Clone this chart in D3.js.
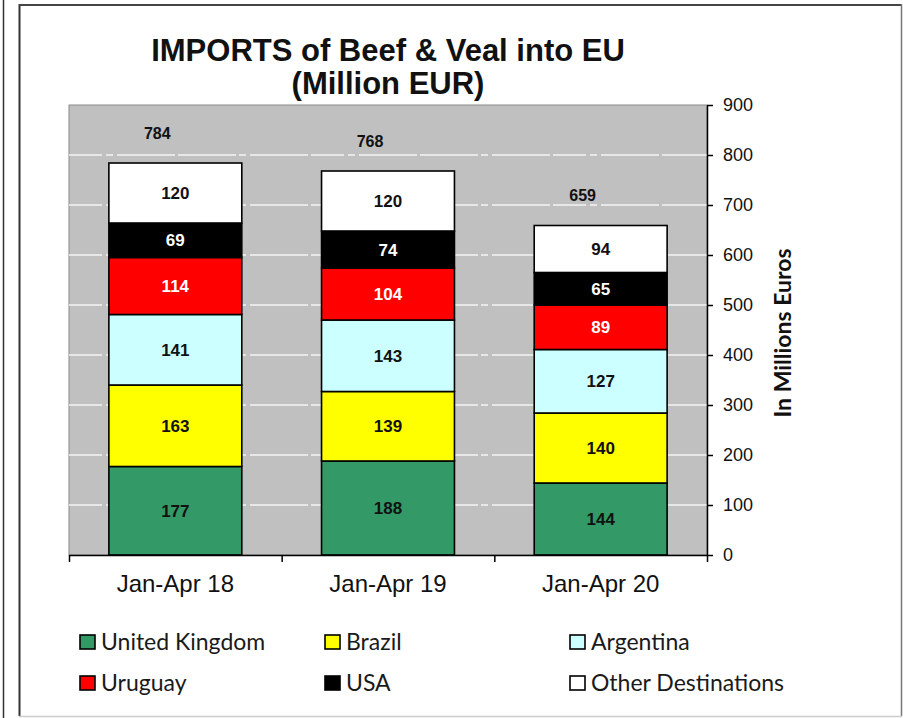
<!DOCTYPE html>
<html>
<head>
<meta charset="utf-8">
<script src="https://cdn.jsdelivr.net/npm/d3@7"></script>
<style>
  html, body { margin: 0; padding: 0; background: #fff; }
  svg { display: block; }
</style>
</head>
<body>
<svg id="chart" width="903" height="718"></svg>
<script>
// periods on the x axis
const periods = ['Jan-Apr 18', 'Jan-Apr 19', 'Jan-Apr 20'];
// origin of imports, bottom of the stack first
const origins = ['United Kingdom', 'Brazil', 'Argentina', 'Uruguay', 'USA', 'Other Destinations'];
// million EUR per origin, one value per period
const ukValues = [177, 188, 144];
const brazilValues = [163, 139, 140];
const argentinaValues = [141, 143, 127];
const uruguayValues = [114, 104, 89];
const usaValues = [69, 74, 65];
const otherValues = [120, 120, 94];
const totals = [784, 768, 659];
const yTicks = [0, 100, 200, 300, 400, 500, 600, 700, 800, 900];

const colors = ['#339966', '#FFFF00', '#CCFFFF', '#FF0000', '#000000', '#FFFFFF'];
const labelColors = ['#111', '#111', '#111', '#fff', '#fff', '#111'];

const seriesValues = [ukValues, brazilValues, argentinaValues, uruguayValues, usaValues, otherValues];

// build rows for d3.stack
const rows = periods.map((p, i) => {
  const row = { period: p };
  origins.forEach((o, k) => { row[o] = seriesValues[k][i]; });
  return row;
});
const stacked = d3.stack().keys(origins)(rows);

const margin = { left: 69, right: 196, top: 105, bottom: 163 };
const width = 903, height = 718;

const svg = d3.select('#chart');

// outer frame (page border look)
svg.append('line').attr('x1', 3.5).attr('x2', 3.5).attr('y1', 0).attr('y2', height)
  .attr('stroke', '#333').attr('stroke-width', 1.5);
svg.append('line').attr('x1', 19.5).attr('x2', 19.5).attr('y1', 4).attr('y2', 716)
  .attr('stroke', '#333').attr('stroke-width', 2);
svg.append('line').attr('x1', 19).attr('x2', 902).attr('y1', 5).attr('y2', 5)
  .attr('stroke', '#444').attr('stroke-width', 2);
svg.append('line').attr('x1', 901.5).attr('x2', 901.5).attr('y1', 4).attr('y2', 716)
  .attr('stroke', '#777').attr('stroke-width', 1.5);
svg.append('line').attr('x1', 19).attr('x2', 902).attr('y1', 716.5).attr('y2', 716.5)
  .attr('stroke', '#ccc').attr('stroke-width', 1.5);

const x = d3.scaleBand()
  .domain(periods)
  .range([margin.left, width - margin.right])
  .paddingInner(0.375)
  .paddingOuter(0.1875);

const y = d3.scaleLinear()
  .domain([0, 900])
  .range([height - margin.bottom - 0, margin.top]);

// plot area
svg.append('rect')
  .attr('x', margin.left).attr('y', margin.top)
  .attr('width', width - margin.left - margin.right)
  .attr('height', y(0) - margin.top)
  .attr('fill', '#C0C0C0')
  .attr('stroke', '#8a8a8a').attr('stroke-width', 1);

// white dashed gridlines
svg.append('g')
  .selectAll('line')
  .data(yTicks.filter(t => t > 0 && t < 900))
  .enter().append('line')
  .attr('x1', margin.left).attr('x2', width - margin.right)
  .attr('y1', d => y(d)).attr('y2', d => y(d))
  .attr('stroke', '#f4f4f4').attr('stroke-width', 1.6)
  .attr('stroke-dasharray', '33,4,7,4,58,3,58,3,7,4,58,3');

// stacked bars
const layers = svg.append('g')
  .selectAll('g')
  .data(stacked)
  .enter().append('g')
  .attr('fill', (d, i) => colors[i]);

layers.selectAll('rect')
  .data(d => d)
  .enter().append('rect')
  .attr('x', d => x(d.data.period))
  .attr('y', d => y(d[1]))
  .attr('width', x.bandwidth())
  .attr('height', d => y(d[0]) - y(d[1]))
  .attr('stroke', '#000').attr('stroke-width', 1.6);

// segment value labels
layers.each(function (layer, i) {
  d3.select(this).selectAll('text')
    .data(layer)
    .enter().append('text')
    .attr('x', d => x(d.data.period) + x.bandwidth() / 2)
    .attr('y', d => (y(d[0]) + y(d[1])) / 2)
    .attr('dy', '0.36em')
    .attr('text-anchor', 'middle')
    .attr('font-family', 'Liberation Sans, Arial, sans-serif')
    .attr('font-weight', 'bold')
    .attr('font-size', 17)
    .attr('fill', labelColors[i])
    .text(d => d[1] - d[0]);
});

// totals above the bars
svg.append('g')
  .selectAll('text')
  .data(totals)
  .enter().append('text')
  .attr('x', (d, i) => x(periods[i]) + x.bandwidth() / 2 - 18)
  .attr('y', d => y(d) - 30)
  .attr('dy', '0.36em')
  .attr('text-anchor', 'middle')
  .attr('font-family', 'Liberation Sans, Arial, sans-serif')
  .attr('font-weight', 'bold')
  .attr('font-size', 16)
  .attr('fill', '#111')
  .text(d => d);

// x axis: line, boundary ticks, category labels
const xEdge = d3.scaleLinear().domain([0, periods.length]).range([margin.left, width - margin.right]);
svg.append('g')
  .attr('transform', `translate(0,${y(0)})`)
  .call(d3.axisBottom(xEdge).tickValues(d3.range(periods.length + 1)).tickFormat('').tickSize(7).tickSizeOuter(0))
  .call(g => g.selectAll('path, line').attr('stroke', '#000').attr('stroke-width', 1.5));

svg.append('g')
  .attr('transform', `translate(0,${y(0)})`)
  .call(d3.axisBottom(x).tickSize(0).tickPadding(20))
  .call(g => g.select('.domain').remove())
  .call(g => g.selectAll('text')
    .attr('font-family', 'Liberation Sans, Arial, sans-serif')
    .attr('font-size', 24)
    .attr('fill', '#111'));

// y axis on the right
svg.append('g')
  .attr('transform', `translate(${width - margin.right},0)`)
  .call(d3.axisRight(y).tickValues(yTicks).tickSize(6).tickPadding(10).tickSizeOuter(0))
  .call(g => g.selectAll('path, line').attr('stroke', '#000').attr('stroke-width', 1.5))
  .call(g => g.selectAll('text')
    .attr('font-family', 'Liberation Sans, Arial, sans-serif')
    .attr('font-size', 18)
    .attr('fill', '#111'));

svg.append('text')
  .attr('transform', `translate(791,333) rotate(-90)`)
  .attr('text-anchor', 'middle')
  .attr('font-family', 'Lato, sans-serif')
  .attr('font-weight', 'bold')
  .attr('font-size', 23)
  .attr('fill', '#111')
  .text('In Millions Euros');

// title
const titleX = (margin.left + width - margin.right) / 2;
svg.append('text')
  .attr('x', titleX).attr('y', 61)
  .attr('text-anchor', 'middle')
  .attr('font-family', 'Liberation Sans, Arial, sans-serif')
  .attr('font-weight', 'bold')
  .attr('font-size', 31)
  .attr('fill', '#111')
  .text('IMPORTS of Beef & Veal into EU');
svg.append('text')
  .attr('x', titleX).attr('y', 94)
  .attr('text-anchor', 'middle')
  .attr('font-family', 'Liberation Sans, Arial, sans-serif')
  .attr('font-weight', 'bold')
  .attr('font-size', 31)
  .attr('fill', '#111')
  .text('(Million EUR)');

// legend, 3 columns x 2 rows
const legendCols = [80, 325, 570];
const legendRows = [642, 683];
const legend = svg.append('g')
  .selectAll('g')
  .data(origins)
  .enter().append('g')
  .attr('transform', (d, i) => `translate(${legendCols[i % 3]},${legendRows[Math.floor(i / 3)]})`);

legend.append('rect')
  .attr('x', 0).attr('y', -7)
  .attr('width', 15).attr('height', 14)
  .attr('fill', (d, i) => colors[i])
  .attr('stroke', '#000').attr('stroke-width', 1.6);

legend.append('text')
  .attr('x', 21).attr('y', 0)
  .attr('dy', '0.35em')
  .attr('font-family', 'Lato, sans-serif')
  .attr('font-size', 23)
  .attr('fill', '#1a1a1a')
  .text(d => d);
</script>
</body>
</html>
